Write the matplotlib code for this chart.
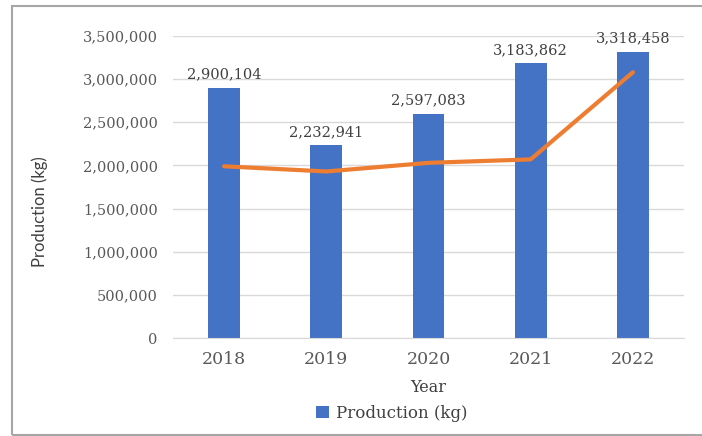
import matplotlib
matplotlib.use("Agg")
import matplotlib.pyplot as plt
from matplotlib.patches import Rectangle
from matplotlib.ticker import FuncFormatter

years = ["2018", "2019", "2020", "2021", "2022"]
production = [2900104, 2232941, 2597083, 3183862, 3318458]
trend = [1990000, 1930000, 2030000, 2070000, 3080000]

SERIF = ["DejaVu Serif"]
SANS = ["Lato", "DejaVu Sans"]
plt.rcParams["font.family"] = SERIF

W, H = 702, 436
fig = plt.figure(figsize=(W / 100, H / 100), dpi=100)
ax = fig.add_axes([173 / W, 1 - 338 / H, (684 - 173) / W, (338 - 36) / H])

x = list(range(len(years)))
bars = ax.bar(x, production, width=0.31, color="#4472C4", label="Production (kg)", zorder=2)
ax.plot(x, trend, color="#ED7D31", linewidth=3, solid_capstyle="round", zorder=3)

for xi, v in zip(x, production):
    ax.annotate(f"{v:,}", (xi, v), xytext=(0, 9.5), textcoords="offset points",
                ha="center", va="center", fontsize=10.5, color="#404040")

ax.set_xlim(-0.5, len(years) - 0.5)
ax.set_ylim(0, 3500000)
ax.set_yticks(range(0, 3500001, 500000))
ax.yaxis.set_major_formatter(FuncFormatter(lambda v, p: f"{int(v):,}"))
ax.set_xticks(x)
ax.set_xticklabels(years)
ax.grid(axis="y", color="#D9D9D9", linewidth=1, zorder=0)
ax.set_axisbelow(True)
for s in ["top", "right", "left"]:
    ax.spines[s].set_visible(False)
ax.spines["bottom"].set_color("#D9D9D9")
ax.tick_params(axis="both", length=0, colors="#595959")
ax.tick_params(axis="y", labelsize=10.5, pad=11)
ax.tick_params(axis="x", labelsize=12.5, pad=9)

ax.set_xlabel("Year", fontsize=11.5, color="#404040", labelpad=8)
fig.text(40 / W, 1 - 212 / H, "Production (kg)", rotation=90, ha="center", va="center",
         fontsize=12, color="#404040", family=SANS)

fig.legend(handles=[bars], labels=["Production (kg)"], loc="center",
           bbox_to_anchor=(392 / W, 1 - 413 / H), frameon=False, fontsize=12,
           handlelength=0.75, handleheight=0.75, handletextpad=0.45,
           labelcolor="#404040")

fig.patches.append(Rectangle((12 / W, 1 - 435 / H), 1.0, (435 - 6) / H,
                             transform=fig.transFigure, fill=False,
                             edgecolor="#A6A6A6", linewidth=1.5))

fig.savefig("out.png", dpi=100, facecolor="white")
